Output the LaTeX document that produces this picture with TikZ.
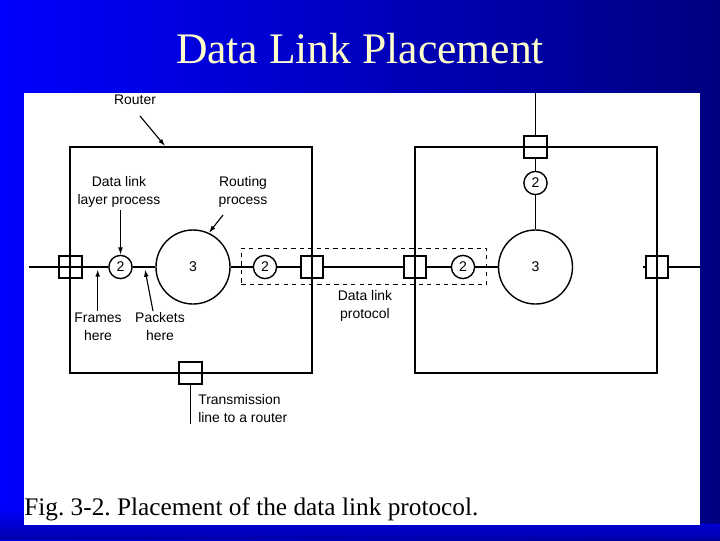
\documentclass[tikz,border=0pt]{standalone}
\usepackage{fontspec}
\setmainfont{Liberation Serif}
\newfontfamily\figfont{Liberation Sans}
\usetikzlibrary{arrows.meta}
\definecolor{slideblue}{HTML}{0000FF}
\definecolor{slidenavy}{HTML}{000080}
\definecolor{bandblue}{HTML}{0000A8}
\definecolor{titlecream}{HTML}{FFFFCC}
\frenchspacing

\begin{document}
\begin{tikzpicture}[x=0.025cm,y=-0.025cm,
  lbl/.style={font=\figfont\fontsize{9.9}{12.8}\selectfont,align=center,inner sep=0pt},
  box/.style={draw,line width=1.4pt,inner sep=0pt},
  sq/.style={draw,line width=1.4pt,minimum size=5.6mm,inner sep=0pt},
  dl/.style={circle,draw,line width=1pt,minimum size=5.8mm,inner sep=0pt,font=\figfont\fontsize{10}{10}\selectfont},
  rp/.style={circle,draw,line width=1pt,minimum size=18.5mm,inner sep=0pt,font=\figfont\fontsize{10}{10}\selectfont},
  ln/.style={line width=1.4pt},
  a/.style={-{Latex[length=1.8mm,width=1.2mm]},line width=.8pt}]

\shade[left color=slideblue,right color=slidenavy] (0,0) rectangle (720,540);
\shade[top color=slideblue,bottom color=bandblue] (0,508) -- (720,524) -- (720,540) -- (0,540) -- cycle;
\fill[white] (24,93) rectangle (700,525);

\node[font=\fontsize{31}{31}\selectfont,text=titlecream,anchor=base] (title) at (360,63) {Data Link Placement};
\node[font=\fontsize{18}{18}\selectfont,anchor=base west,inner sep=0pt] (cap) at (24,515)
  {Fig. 3-2. Placement of the data link protocol.};

\node[box,minimum width=6.04cm,minimum height=5.65cm] (R1) at (191.25,260) {};
\node[box,minimum width=6.05cm,minimum height=5.65cm] (R2) at (536,260) {};
\node[draw,dashed,line width=.7pt,minimum width=6.125cm,minimum height=.91cm] (dlp) at (364,266.2) {};

\node[sq] (q1) at (70.5,267) {}; \node[sq] (q2) at (312,267) {};
\node[sq] (q3) at (415,267) {}; \node[sq] (q4) at (657,267) {};
\node[sq] (q5) at (535.5,147) {}; \node[sq] (q6) at (190.5,373) {};

\node[dl] (d1) at (120.5,267) {2}; \node[dl] (d2) at (265,267) {2};
\node[dl] (d3) at (463,267) {2}; \node[dl] (d4) at (535.5,183) {2};
\node[rp] (r1) at (193,267) {3}; \node[rp] (r2) at (535.5,267) {3};

\coordinate (wl) at (29,267); \coordinate (wr) at (700,267); \coordinate (st) at (643,267);
\coordinate (wt) at (535.5,93); \coordinate (wb) at (190.5,424);

\draw[ln] (wl) -- (d1); \draw[ln] (d1) -- (r1); \draw[ln] (r1) -- (d2); \draw[ln] (d2) -- (q2);
\draw[ln] (q2) -- (q3); \draw[ln] (q3) -- (d3); \draw[ln] (d3) -- (r2);
\draw[ln] (q4) -- (wr); \draw[ln] (q4.west) -- (st);
\draw[ln] (wt) -- (q5); \draw[ln] (q5) -- (d4); \draw[ln] (d4) -- (r2); \draw[ln] (q6) -- (wb);

\node[lbl] (lrt) at (135,100) {Router};
\node[lbl] (ldl) at (119,192) {Data link\\layer process};
\node[lbl] (lrp) at (243,192) {Routing\\process};
\node[lbl] (lfr) at (98,327) {Frames\\here};
\node[lbl] (lpk) at (160,327) {Packets\\here};
\node[lbl] (lpr) at (365,306) {Data link\\protocol};
\node[lbl,align=left,anchor=west] (ltr) at (198,409) {Transmission\\line to a router};

\coordinate (rs) at (140,116); \coordinate (rt) at (165,146);
\coordinate (ds) at (120.5,210); \coordinate (ps) at (223,215);
\coordinate (fs) at (97.7,311); \coordinate (ft) at (97.7,269.5);
\coordinate (ks) at (153,311); \coordinate (kt) at (145,269.5);
\draw[a] (rs) -- (rt); \draw[a] (ds) -- (d1.north); \draw[a] (ps) -- (r1.65);
\draw[a] (fs) -- (ft); \draw[a] (ks) -- (kt);
\end{tikzpicture}
\end{document}
